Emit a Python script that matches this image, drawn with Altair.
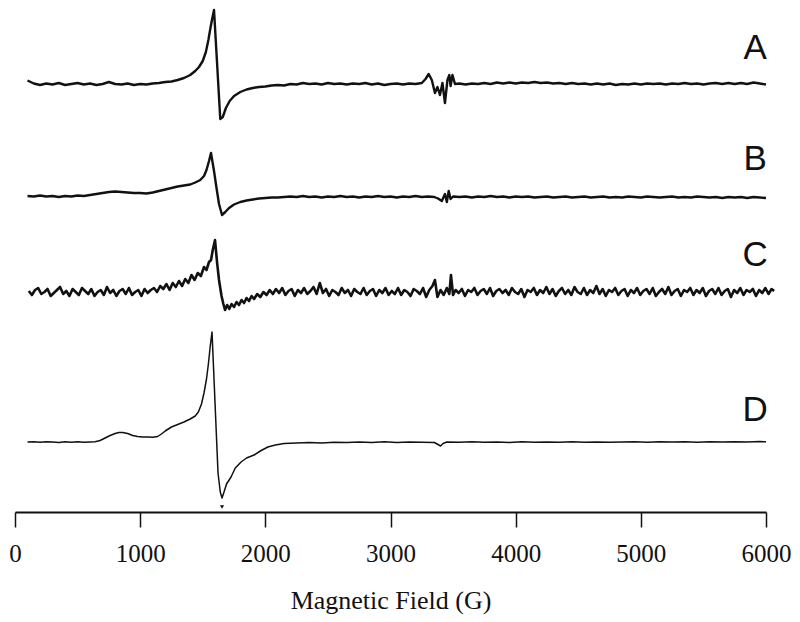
import altair as alt
import pandas as pd

# ---- data (field in G, signal in arbitrary units, up = positive) ----
A_POINTS = [
    (100, 3.5), (150, 0.5), (200, -1.0), (250, 0.5), (300, -0.5), (350, 1.0), (400, -1.0),
    (450, 0.0), (500, 1.0), (550, -0.5), (600, 0.5), (650, -1.0), (700, 0.0), (750, 2.0),
    (800, 0.0), (850, -0.5), (900, 0.5), (950, -1.0), (1000, 0.0), (1050, -0.5), (1100, 0.5),
    (1150, 1.0), (1200, 2.0), (1250, 2.5), (1300, 4.0), (1350, 6.0), (1400, 9.0), (1440, 13.0),
    (1470, 17.0), (1500, 23.0), (1525, 32.0), (1545, 44.0), (1560, 55.0), (1575, 65.0),
    (1590, 74.0), (1640, -35.0), (1660, -33.0), (1685, -24.0), (1715, -17.0), (1750, -12.0),
    (1800, -8.0), (1850, -5.5), (1900, -4.0), (1950, -3.0), (2000, -2.5), (2050, -1.5),
    (2100, -1.0), (2150, -1.5), (2200, 0.0), (2250, -0.5), (2300, 1.0), (2350, 0.0), (2400, 0.5),
    (2450, -0.5), (2500, 1.0), (2550, 0.0), (2600, 0.5), (2650, -0.5), (2700, 0.5), (2750, 0.0),
    (2800, 1.0), (2850, -0.5), (2900, 0.5), (2950, -1.0), (3000, 0.0), (3050, 0.5), (3100, -0.5),
    (3150, 0.5), (3200, 0.0), (3250, 1.0), (3280, 5.0), (3305, 10.0), (3330, 4.0), (3355, -9.0),
    (3375, -3.0), (3395, -11.0), (3415, 1.0), (3435, -19.0), (3455, 4.0), (3470, 9.0),
    (3480, -2.0), (3495, 9.0), (3515, 0.0), (3550, 0.5), (3600, -0.5), (3650, 0.5), (3700, 0.0),
    (3750, 1.0), (3800, 0.0), (3850, 1.5), (3900, 0.5), (3950, 1.5), (4000, 0.5), (4050, 1.5),
    (4100, 1.0), (4150, 2.0), (4200, 1.0), (4250, 1.5), (4300, 0.5), (4350, 1.0), (4400, 0.0),
    (4450, 1.0), (4500, 0.0), (4550, 0.5), (4600, -0.5), (4650, 0.5), (4700, -0.5), (4750, 0.5),
    (4800, -1.0), (4850, 0.0), (4900, -0.5), (4950, 0.5), (5000, -0.5), (5050, 0.5), (5100, 0.0),
    (5150, 0.5), (5200, -0.5), (5250, 0.5), (5300, 0.0), (5350, 1.0), (5400, 0.0), (5450, 0.5),
    (5500, -0.5), (5550, 0.5), (5600, 1.0), (5650, 0.0), (5700, 1.0), (5750, 0.0), (5800, 1.0),
    (5850, 0.0), (5900, 1.5), (5950, 0.5), (6000, -0.5),
]

B_POINTS = [
    (100, 0.0), (150, -0.5), (200, 0.5), (250, -0.5), (300, 0.0), (350, -1.0), (400, 0.0),
    (450, -0.5), (500, 0.5), (550, 0.0), (600, 1.0), (650, 2.0), (700, 3.0), (750, 4.0),
    (800, 4.5), (850, 4.0), (900, 3.5), (950, 3.0), (1000, 3.0), (1050, 2.5), (1100, 3.5),
    (1150, 5.0), (1200, 6.5), (1250, 8.0), (1300, 9.5), (1350, 10.5), (1400, 11.5), (1440, 13.5),
    (1480, 16.0), (1510, 20.0), (1530, 26.0), (1550, 35.0), (1566, 43.0), (1590, 25.0),
    (1610, 8.0), (1630, -8.0), (1654, -19.0), (1680, -16.0), (1710, -12.0), (1750, -8.5),
    (1800, -6.0), (1850, -4.5), (1900, -3.5), (1950, -2.5), (2000, -2.0), (2050, -1.5),
    (2100, -1.5), (2150, -1.0), (2200, -0.5), (2250, -1.0), (2300, 0.0), (2350, -1.0),
    (2400, -0.5), (2450, -1.5), (2500, -0.5), (2550, -1.0), (2600, 0.0), (2650, -1.0),
    (2700, -0.5), (2750, -1.5), (2800, -0.5), (2850, -1.0), (2900, 0.0), (2950, -1.0),
    (3000, -0.5), (3050, -1.5), (3100, -0.5), (3150, -1.0), (3200, 0.0), (3250, -1.0),
    (3300, -0.5), (3350, -1.0), (3380, -2.5), (3410, -5.0), (3435, 2.0), (3450, -6.0),
    (3465, 5.0), (3480, -3.0), (3500, -0.5), (3550, -1.0), (3600, -0.5), (3650, -1.5),
    (3700, -0.5), (3750, -1.0), (3800, 0.0), (3850, -1.0), (3900, -0.5), (3950, -1.5),
    (4000, -0.5), (4050, -1.0), (4100, -0.5), (4150, -1.5), (4200, -1.0), (4250, -0.5),
    (4300, -1.5), (4350, -1.0), (4400, -0.5), (4450, -1.5), (4500, -1.0), (4550, -0.5),
    (4600, -1.5), (4650, -1.0), (4700, -0.5), (4750, -1.5), (4800, -1.0), (4850, -1.5),
    (4900, -0.5), (4950, -1.0), (5000, -1.5), (5050, -0.5), (5100, -1.0), (5150, -1.5),
    (5200, -1.0), (5250, -0.5), (5300, -1.5), (5350, -1.0), (5400, -1.5), (5450, -0.5),
    (5500, -1.0), (5550, -1.5), (5600, -1.0), (5650, -2.0), (5700, -1.0), (5750, -1.5),
    (5800, -1.0), (5850, -2.0), (5900, -1.0), (5950, -1.5), (6000, -2.0),
]

C_POINTS = [
    (110, 1), (135, -3), (160, 2), (185, 4), (210, -2), (235, 0), (260, 3), (285, -4),
    (310, -1), (335, 2), (360, 5), (385, -2), (410, 1), (435, -4), (460, 3), (485, 0),
    (510, -3), (535, 4), (560, 1), (585, -2), (610, 3), (635, -4), (660, 0), (685, 2),
    (710, -3), (735, 5), (760, -1), (785, 2), (810, -4), (835, 1), (860, 3), (885, -2),
    (910, 4), (935, -3), (960, 0), (985, 2), (1010, -4), (1035, 3), (1060, -1), (1085, 2),
    (1110, 4), (1135, 0), (1160, 6), (1185, 3), (1210, 8), (1235, 2), (1260, 9), (1285, 5),
    (1310, 11), (1335, 6), (1360, 13), (1385, 9), (1410, 17), (1435, 12), (1460, 19),
    (1485, 16), (1510, 25), (1530, 22), (1550, 30), (1566, 32), (1580, 42), (1598, 52),
    (1614, 30), (1630, 12), (1650, -4), (1665, -12), (1678, -18), (1695, -13), (1712, -17),
    (1730, -12), (1750, -15), (1770, -10), (1790, -13), (1810, -8), (1830, -11), (1850, -6),
    (1870, -9), (1890, -4), (1910, -7), (1935, -2), (1960, -5), (1985, 0), (2010, -3),
    (2035, 2), (2060, -2), (2085, 3), (2110, -1), (2135, 4), (2160, -3), (2185, 1), (2210, 3),
    (2235, -4), (2260, 2), (2285, -1), (2310, 4), (2335, -2), (2360, 1), (2385, 5), (2410, -2),
    (2435, 9), (2460, -1), (2485, 3), (2510, -4), (2535, 2), (2560, 0), (2585, -3), (2610, 4),
    (2635, -1), (2660, 2), (2685, -4), (2710, 3), (2735, 0), (2760, -2), (2785, 4), (2810, -3),
    (2835, 1), (2860, 3), (2885, -4), (2910, 2), (2935, -1), (2960, 4), (2985, -3), (3010, 1),
    (3035, -2), (3060, 4), (3085, -3), (3110, 2), (3135, 0), (3160, -4), (3185, 3), (3210, 1),
    (3235, -2), (3260, 4), (3285, -5), (3310, 2), (3335, 6), (3355, 12), (3375, -5), (3400, 2),
    (3425, -3), (3450, 4), (3470, -2), (3483, 17), (3500, -3), (3520, 2), (3545, -1), (3570, 3),
    (3595, -4), (3620, 2), (3645, 0), (3670, 4), (3695, -3), (3720, 1), (3745, 3), (3770, -2),
    (3795, 4), (3820, -4), (3845, 1), (3870, 3), (3895, -1), (3920, 2), (3945, -3), (3970, 4),
    (3995, 0), (4020, -2), (4045, 3), (4070, -5), (4095, 2), (4120, 0), (4145, 4), (4170, -3),
    (4195, 2), (4220, -1), (4245, 5), (4270, -2), (4295, 3), (4320, -4), (4345, 1), (4370, 4),
    (4395, -2), (4420, 2), (4445, -3), (4470, 5), (4495, 0), (4520, -2), (4545, 4), (4570, -3),
    (4595, 2), (4620, -1), (4645, 6), (4670, -2), (4695, 3), (4720, -4), (4745, 2), (4770, 0),
    (4795, 4), (4820, -3), (4845, 1), (4870, 3), (4895, -4), (4920, 2), (4945, -1), (4970, 4),
    (4995, -3), (5020, 1), (5045, 3), (5070, -2), (5095, 4), (5120, -4), (5145, 0), (5170, 3),
    (5195, -2), (5220, 5), (5245, -3), (5270, 1), (5295, 3), (5320, -4), (5345, 2), (5370, 0),
    (5395, 4), (5420, -3), (5445, 2), (5470, -1), (5495, 4), (5520, -4), (5545, 1), (5570, 3),
    (5595, -2), (5620, 4), (5645, -3), (5670, 1), (5695, 3), (5720, -5), (5745, 2), (5770, -1),
    (5795, 4), (5820, -3), (5845, 2), (5870, 0), (5895, 3), (5920, -4), (5945, 2), (5970, -1),
    (5995, 4), (6020, -2), (6045, 3), (6065, 1),
]

D_POINTS = [
    (100, 0.0), (150, 0.3), (200, -0.3), (250, 0.2), (300, 0.0), (350, -0.4), (400, 0.2),
    (450, -0.2), (500, 0.3), (550, -0.3), (600, 0.0), (640, 0.3), (680, 1.5), (720, 4.0),
    (760, 6.5), (800, 8.5), (830, 9.5), (860, 9.5), (900, 8.5), (940, 6.5), (980, 5.5),
    (1020, 5.0), (1060, 5.0), (1100, 4.8), (1140, 5.5), (1170, 8.0), (1200, 11.0), (1250, 15.0),
    (1300, 17.5), (1350, 20.0), (1400, 23.0), (1440, 26.0), (1465, 30.0), (1490, 38.0),
    (1510, 49.0), (1530, 63.0), (1545, 78.0), (1560, 96.0), (1574, 110.0), (1590, 63.0),
    (1610, 4.0), (1622, -31.0), (1640, -50.0), (1654, -56.0), (1670, -50.0), (1690, -42.0),
    (1726, -35.0), (1760, -26.0), (1806, -20.0), (1850, -16.0), (1910, -13.0), (1960, -9.0),
    (2020, -5.0), (2080, -3.0), (2150, -1.5), (2250, -1.0), (2350, -0.5), (2450, -1.0),
    (2550, -0.3), (2650, -0.6), (2750, 0.0), (2850, -0.5), (2950, 0.2), (3050, -0.4),
    (3150, 0.0), (3250, -0.3), (3350, -0.5), (3380, -2.5), (3400, -4.0), (3420, -1.5),
    (3450, 0.0), (3550, -0.3), (3650, 0.2), (3750, -0.3), (3850, 0.0), (3950, -0.4),
    (4050, 0.2), (4150, -0.2), (4250, 0.0), (4350, -0.3), (4450, 0.2), (4550, -0.2),
    (4650, 0.1), (4750, -0.3), (4850, 0.0), (4950, 0.3), (5050, -0.2), (5150, 0.2),
    (5250, -0.1), (5350, 0.2), (5450, -0.2), (5550, 0.3), (5650, 0.0), (5750, 0.3),
    (5850, 0.0), (5950, 0.4), (6000, 0.2),
]

TRACES = ["A", "B", "C", "D"]
TRACE_POINTS = {"A": A_POINTS, "B": B_POINTS, "C": C_POINTS, "D": D_POINTS}
OFFSETS = {"A": 428, "B": 316, "C": 220, "D": 70}
WIDTHS = {"A": 2.4, "B": 2.4, "C": 2.6, "D": 1.5}

LABEL_FIELD = [5913, 5913, 5913, 5913]
LABEL_Y = [464, 353, 257, 102]

X_TICKS = [0, 1000, 2000, 3000, 4000, 5000, 6000]
MARKER = [(1654, -65.0)]  # small triangle under trace D

x_scale = alt.Scale(domain=[0, 6000], nice=False, zero=False)
y_scale = alt.Scale(domain=[0, 504], nice=False, zero=False)

x_axis = alt.Axis(
    values=X_TICKS, format="d", title="Magnetic Field (G)", grid=False,
    labelFont="Liberation Serif", labelFontSize=25, labelColor="#111",
    titleFont="Liberation Serif", titleFontSize=26, titleFontWeight="normal", titleColor="#111",
    domainColor="#111", domainWidth=2, tickColor="#111", tickWidth=1.5, tickSize=15,
    labelPadding=14, titlePadding=21, labelFlush=False, labelOverlap=False,
)


def xenc():
    return alt.X("field:Q", scale=x_scale, axis=x_axis)


def yenc():
    return alt.Y("y:Q", scale=y_scale, axis=None)


layers = []
for t in TRACES:
    df = pd.DataFrame(TRACE_POINTS[t], columns=["field", "signal"])
    df["y"] = df["signal"] + OFFSETS[t]
    layers.append(
        alt.Chart(df).mark_line(color="#111", strokeWidth=WIDTHS[t], strokeJoin="round").encode(
            x=xenc(), y=yenc(), order="field:Q",
        )
    )

mk = pd.DataFrame(MARKER, columns=["field", "signal"])
mk["y"] = mk["signal"] + OFFSETS["D"]
layers.append(
    alt.Chart(mk).mark_point(shape="triangle-down", filled=True, color="#111", size=18, opacity=1).encode(
        x=xenc(), y=yenc(),
    )
)

lab = pd.DataFrame({"field": LABEL_FIELD, "y": LABEL_Y, "text": TRACES})
layers.append(
    alt.Chart(lab).mark_text(font="Liberation Sans", fontSize=35, color="#111", align="center", baseline="middle").encode(
        x=xenc(), y=yenc(), text="text:N",
    )
)

chart = alt.layer(*layers).properties(
    width=751, height=504,
    autosize=alt.AutoSizeParams(type="none"),
    padding={"left": 7, "top": 0, "right": 26, "bottom": 102},
).configure_view(stroke=None)

chart.save("out.html", embed_options={"renderer": "svg", "actions": False})
